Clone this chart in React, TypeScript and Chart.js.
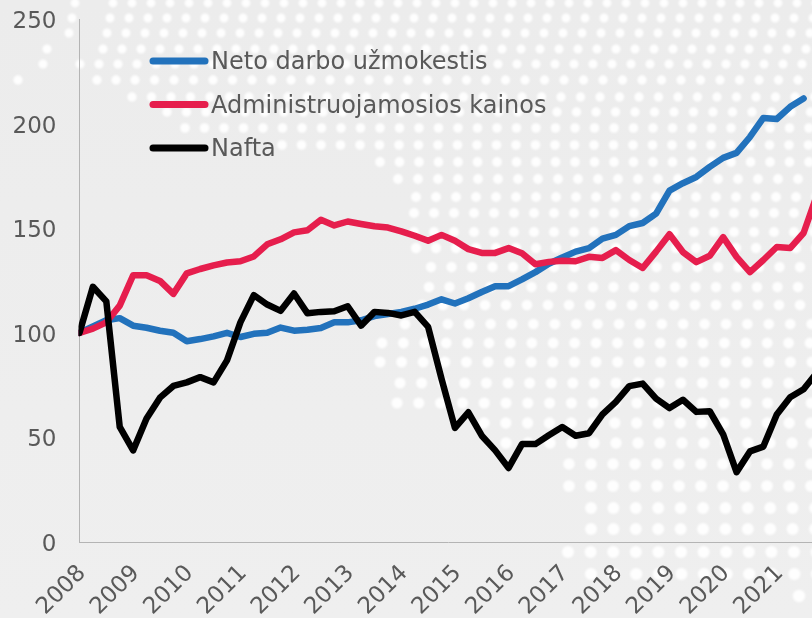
import React, { useEffect, useRef } from "react";
import { Chart, registerables } from "chart.js";

Chart.register(...registerables);

const yearLabels = ["2008","2009","2010","2011","2012","2013","2014","2015","2016","2017","2018","2019","2020","2021"];
const categories: string[] = [];
yearLabels.forEach((y) => categories.push(y, "", "", ""));

const netoWages = [100,103,106,107,103.4,102.4,101,100,96,97,98.3,100,98,99.5,100,102.5,101,101.5,102.3,105,105,106,108,109,110,111.5,113.5,116,114,116.5,119.5,122.3,122.3,125.5,129,133,136,138.8,140.5,145,146.8,151,152.5,157,168,171.5,174.5,179.3,183.6,186,193.6,202.7,202.2,208,212,null];
const adminPrices = [100,102,105,113,127.5,127.5,124.8,118.6,128.4,130.5,132.2,133.6,134.2,136.5,142.3,144.7,148,149,154,151.3,153.2,152,150.9,150.3,148.5,146.4,144,146.8,144,140,138.2,138.2,140.5,138,132.8,133.9,134.4,134.2,136.3,135.8,139.5,134.8,131,138.8,147.1,138.6,133.8,136.8,145.7,136.3,129,134.8,141,140.5,147.7,166];
const oilPrices = [100,122,115,55,43.8,59,69,74.6,76.3,78.8,76.3,86.8,105,118,113.5,110.5,118.8,109.3,110,110.3,112.7,103.4,110,109.5,108.3,110,102.8,78,54.5,62,50.8,43.8,35.4,46.8,46.8,51,55,50.8,52,61,67,74.5,75.7,68.5,64,68,62.2,62.5,51.5,33.4,43.3,45.6,61,69.2,73,81];

const seriesNames = ["Neto darbo užmokestis", "Administruojamosios kainos", "Nafta"];
const seriesColors = ["#2272bc", "#e61e4d", "#000000"];
const yTicks = [0, 50, 100, 150, 200, 250];

const fontFamily = "'DejaVu Sans', Verdana, sans-serif";
const textColor = "#595959";

// decorative dotted world-map backdrop: rows of dots
const dotRowY = [3,18,33,49,64,80,97,112,128,145,162,179,197,213,232,248,267,287,305,324,343,362,383,403,423,443,464,486,508,529,552,574,596];
const dotRowStart = [113,110,107,103,99,135,132,167,185,282,380,398,416,414,414,416,431,429,422,405,382,380,400,397,484,506,569,569,591,591,568,591,799];
const dotRowStep = [19,19,19,19,19,19.5,19.5,19.5,19.5,19.5,19.5,20,20,20,20,20,20.5,20.5,21,21.4,21.4,21.6,21.6,21.8,21.8,22,22,22,22.4,22.4,22.6,22.6,22.8];
const strayDotX = [75,72,69,47,43,80,18,97,116];
const strayDotY = [3,18,33,49,64,64,80,80,80];

const backdropPlugin = {
  id: "backdrop",
  beforeDraw(chart: any) {
    const { ctx, width, height } = chart;
    ctx.save();
    const g = ctx.createLinearGradient(0, 0, 0, height);
    g.addColorStop(0, "#ececec");
    g.addColorStop(1, "#efefef");
    ctx.fillStyle = g;
    ctx.fillRect(0, 0, width, height);
    ctx.filter = "blur(1.2px)";
    ctx.fillStyle = "rgba(255,255,255,0.92)";
    const dot = (x: number, y: number) => {
      ctx.beginPath();
      ctx.arc(x, y, 4.4 + y * 0.003, 0, Math.PI * 2);
      ctx.fill();
    };
    dotRowY.forEach((y, r) => {
      for (let x = dotRowStart[r]; x < width; x += dotRowStep[r]) dot(x, y);
    });
    strayDotX.forEach((x, i) => dot(x, strayDotY[i]));
    ctx.restore();
  },
};

const legendPlugin = {
  id: "insideLegend",
  afterDatasetsDraw(chart: any) {
    const { ctx } = chart;
    ctx.save();
    ctx.font = `24px ${fontFamily}`;
    ctx.textBaseline = "middle";
    chart.data.datasets.forEach((ds: any, i: number) => {
      const y = 61 + i * 43.5;
      ctx.strokeStyle = ds.borderColor;
      ctx.lineWidth = 7;
      ctx.lineCap = "round";
      ctx.beginPath();
      ctx.moveTo(153, y);
      ctx.lineTo(205, y);
      ctx.stroke();
      ctx.fillStyle = textColor;
      ctx.fillText(ds.label, 211, y + 2);
    });
    ctx.restore();
  },
};

export default function App() {
  const ref = useRef<HTMLCanvasElement>(null);
  useEffect(() => {
    const makeSet = (i: number, data: (number | null)[]) => ({
      label: seriesNames[i],
      data,
      borderColor: seriesColors[i],
      backgroundColor: seriesColors[i],
      borderWidth: 6.5,
      pointRadius: 0,
      tension: 0,
      borderJoinStyle: "round" as const,
      borderCapStyle: "round" as const,
      fill: false,
      order: 2 - i,
      clip: { left: 1, right: false, top: false, bottom: false },
    });
    const chart = new Chart(ref.current!, {
      type: "line",
      data: {
        labels: categories,
        datasets: [makeSet(0, netoWages), makeSet(1, adminPrices), makeSet(2, oilPrices)],
      },
      plugins: [backdropPlugin, legendPlugin],
      options: {
        animation: false,
        responsive: false,
        layout: { autoPadding: false, padding: { top: 19, right: 13, left: 0, bottom: 0 } },
        plugins: { legend: { display: false }, tooltip: { enabled: false }, title: { display: false } },
        scales: {
          x: {
            offset: false,
            afterFit: (s: any) => { s.height = 76; s.paddingLeft = 0; s.paddingRight = 0; },
            border: { color: "#b4b4b4", width: 1 },
            grid: { display: true, drawOnChartArea: false, drawTicks: false },
            ticks: {
              autoSkip: false,
              minRotation: 45,
              maxRotation: 45,
              padding: 18,
              labelOffset: 3,
              color: textColor,
              font: { size: 23, family: fontFamily },
            },
          },
          y: {
            min: 0,
            max: 250,
            afterFit: (s: any) => { s.width = 79.5; s.paddingTop = 0; s.paddingBottom = 0; },
            afterBuildTicks: (s: any) => { s.ticks = yTicks.map((value) => ({ value })); },
            border: { color: "#b4b4b4", width: 1 },
            grid: { display: false, drawTicks: false },
            ticks: {
              padding: 23,
              labelOffset: 3,
              color: textColor,
              font: { size: 23, family: fontFamily },
            },
          },
        },
      },
    });
    return () => chart.destroy();
  }, []);
  return (
    <div style={{ position: "fixed", left: 0, top: 0, width: 812, height: 618, overflow: "hidden" }}>
      <canvas ref={ref} width={830} height={618} style={{ display: "block" }} />
    </div>
  );
}
